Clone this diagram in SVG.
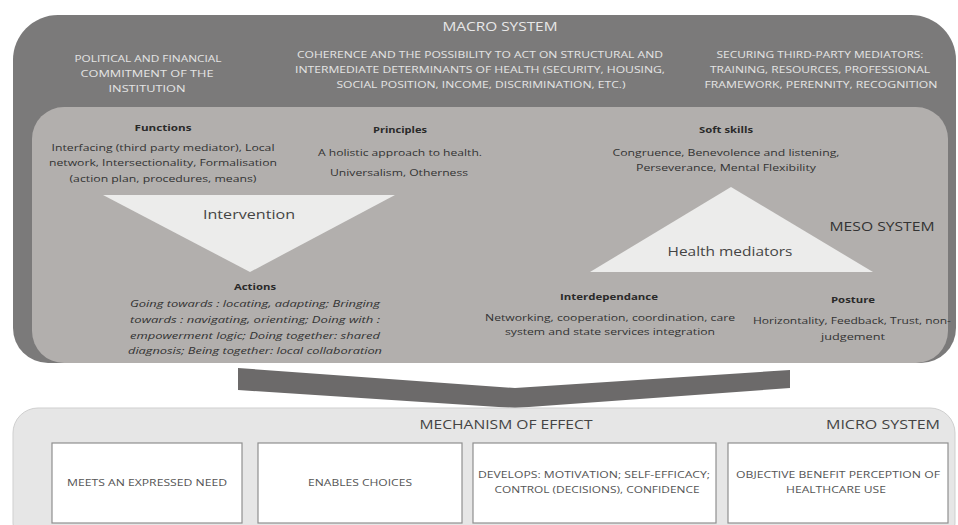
<svg xmlns="http://www.w3.org/2000/svg" width="958" height="525" viewBox="0 0 958 525">
<style>
text { font-family: "Open Sans", "Liberation Sans", sans-serif; text-anchor: middle; }
.mac { font-size: 9.5px; fill: #e4e4e4; }
.title { font-size: 12.5px; fill: #e8e8e8; }
.hd { font-size: 9px; font-weight: bold; fill: #2a2a2a; }
.tx { font-size: 9.5px; fill: #333; }
.it { font-size: 9.5px; font-style: italic; fill: #333; }
.tri { font-size: 13px; fill: #444; }
.sys { font-size: 12.5px; fill: #333; }
.mic { font-size: 12px; fill: #444; }
.bx { font-size: 8.5px; fill: #555; }
.card { fill: #ffffff; stroke: #8f8f8f; stroke-width: 1.2; }
</style>

<g id="macro">
  <path d="M58,15 H911 A45,45 0 0 1 956,60 V328 A35,35 0 0 1 921,363 H48 A35,35 0 0 1 13,328 V60 A45,45 0 0 1 58,15 Z" fill="#7b7a7a"/>
  <text class="title" x="500" y="31" textLength="115" lengthAdjust="spacingAndGlyphs">MACRO SYSTEM</text>
  <text class="mac" x="148" y="62" textLength="147" lengthAdjust="spacingAndGlyphs">POLITICAL AND FINANCIAL</text>
  <text class="mac" x="147" y="77" textLength="133" lengthAdjust="spacingAndGlyphs">COMMITMENT OF THE</text>
  <text class="mac" x="147" y="92" textLength="77" lengthAdjust="spacingAndGlyphs">INSTITUTION</text>
  <text class="mac" x="480" y="58" textLength="366" lengthAdjust="spacingAndGlyphs">COHERENCE AND THE POSSIBILITY TO ACT ON STRUCTURAL AND</text>
  <text class="mac" x="480" y="73" textLength="370" lengthAdjust="spacingAndGlyphs">INTERMEDIATE DETERMINANTS OF HEALTH (SECURITY, HOUSING,</text>
  <text class="mac" x="481" y="88" textLength="289" lengthAdjust="spacingAndGlyphs">SOCIAL POSITION, INCOME, DISCRIMINATION, ETC.)</text>
  <text class="mac" x="820" y="58" textLength="207" lengthAdjust="spacingAndGlyphs">SECURING THIRD-PARTY MEDIATORS:</text>
  <text class="mac" x="820" y="73" textLength="220" lengthAdjust="spacingAndGlyphs">TRAINING, RESOURCES, PROFESSIONAL</text>
  <text class="mac" x="821" y="88" textLength="233" lengthAdjust="spacingAndGlyphs">FRAMEWORK, PERENNITY, RECOGNITION</text>
</g>

<g id="meso">
  <rect x="32" y="107" width="916" height="256" rx="32" fill="#b2afad"/>
  <text class="sys" x="882" y="231" textLength="105" lengthAdjust="spacingAndGlyphs">MESO SYSTEM</text>
</g>

<g id="functions">
  <text class="hd" x="163" y="131" textLength="57" lengthAdjust="spacingAndGlyphs">Functions</text>
  <text class="tx" x="163" y="151" textLength="223" lengthAdjust="spacingAndGlyphs">Interfacing (third party mediator), Local</text>
  <text class="tx" x="163" y="166" textLength="228" lengthAdjust="spacingAndGlyphs">network, Intersectionality, Formalisation</text>
  <text class="tx" x="163" y="182" textLength="187" lengthAdjust="spacingAndGlyphs">(action plan, procedures, means)</text>
</g>

<g id="principles">
  <text class="hd" x="400" y="133" textLength="54" lengthAdjust="spacingAndGlyphs">Principles</text>
  <text class="tx" x="400" y="156" textLength="164" lengthAdjust="spacingAndGlyphs">A holistic approach to health.</text>
  <text class="tx" x="399" y="176" textLength="138" lengthAdjust="spacingAndGlyphs">Universalism, Otherness</text>
</g>

<g id="intervention">
  <polygon points="103,195 395,195 250,272" fill="#ececeb"/>
  <text class="tri" x="249" y="219" textLength="92" lengthAdjust="spacingAndGlyphs">Intervention</text>
</g>

<g id="actions">
  <text class="hd" x="255" y="290" textLength="42" lengthAdjust="spacingAndGlyphs">Actions</text>
  <text class="it" x="255" y="307" textLength="250" lengthAdjust="spacingAndGlyphs">Going towards : locating, adapting; Bringing</text>
  <text class="it" x="255" y="323" textLength="250" lengthAdjust="spacingAndGlyphs">towards : navigating, orienting; Doing with :</text>
  <text class="it" x="255" y="339" textLength="250" lengthAdjust="spacingAndGlyphs">empowerment logic; Doing together: shared</text>
  <text class="it" x="255" y="354" textLength="254" lengthAdjust="spacingAndGlyphs">diagnosis; Being together: local collaboration</text>
</g>

<g id="soft-skills">
  <text class="hd" x="726" y="133" textLength="54" lengthAdjust="spacingAndGlyphs">Soft skills</text>
  <text class="tx" x="726" y="156" textLength="227" lengthAdjust="spacingAndGlyphs">Congruence, Benevolence and listening,</text>
  <text class="tx" x="726" y="171" textLength="180" lengthAdjust="spacingAndGlyphs">Perseverance, Mental Flexibility</text>
</g>

<g id="health-mediators">
  <polygon points="590,272 873,272 731,187" fill="#ececeb"/>
  <text class="tri" x="730" y="256" textLength="125" lengthAdjust="spacingAndGlyphs">Health mediators</text>
</g>

<g id="interdependance">
  <text class="hd" x="609" y="300" textLength="98" lengthAdjust="spacingAndGlyphs">Interdependance</text>
  <text class="tx" x="610" y="321" textLength="250" lengthAdjust="spacingAndGlyphs">Networking, cooperation, coordination, care</text>
  <text class="tx" x="610" y="335" textLength="210" lengthAdjust="spacingAndGlyphs">system and state services integration</text>
</g>

<g id="posture">
  <text class="hd" x="853" y="303" textLength="44" lengthAdjust="spacingAndGlyphs">Posture</text>
  <text class="tx" x="852" y="324" textLength="198" lengthAdjust="spacingAndGlyphs">Horizontality, Feedback, Trust, non-</text>
  <text class="tx" x="853" y="340" textLength="64" lengthAdjust="spacingAndGlyphs">judgement</text>
</g>

<g id="connectors">
  <path d="M238,368 L515,388 L790,370 L790,388 L515,408 L238,390 Z" fill="#6c6a6a"/>
</g>

<g id="micro">
  <rect x="13" y="408" width="942" height="140" rx="25" fill="#e6e6e6" stroke="#cfcfcf" stroke-width="1"/>
  <text class="mic" x="506" y="429" textLength="173" lengthAdjust="spacingAndGlyphs">MECHANISM OF EFFECT</text>
  <text class="mic" x="883" y="429" textLength="114" lengthAdjust="spacingAndGlyphs">MICRO SYSTEM</text>
</g>

<g id="box1">
  <rect class="card" x="52" y="443" width="190" height="80"/>
  <text class="bx" x="147" y="486" textLength="160" lengthAdjust="spacingAndGlyphs">MEETS AN EXPRESSED NEED</text>
</g>
<g id="box2">
  <rect class="card" x="258" y="443" width="204" height="80"/>
  <text class="bx" x="360" y="486" textLength="104" lengthAdjust="spacingAndGlyphs">ENABLES CHOICES</text>
</g>
<g id="box3">
  <rect class="card" x="473" y="443" width="243" height="80"/>
  <text class="bx" x="594" y="478" textLength="232" lengthAdjust="spacingAndGlyphs">DEVELOPS: MOTIVATION; SELF-EFFICACY;</text>
  <text class="bx" x="597" y="493" textLength="205" lengthAdjust="spacingAndGlyphs">CONTROL (DECISIONS), CONFIDENCE</text>
</g>
<g id="box4">
  <rect class="card" x="728" y="443" width="220" height="80"/>
  <text class="bx" x="838" y="478" textLength="204" lengthAdjust="spacingAndGlyphs">OBJECTIVE BENEFIT PERCEPTION OF</text>
  <text class="bx" x="836" y="493" textLength="100" lengthAdjust="spacingAndGlyphs">HEALTHCARE USE</text>
</g>
</svg>
